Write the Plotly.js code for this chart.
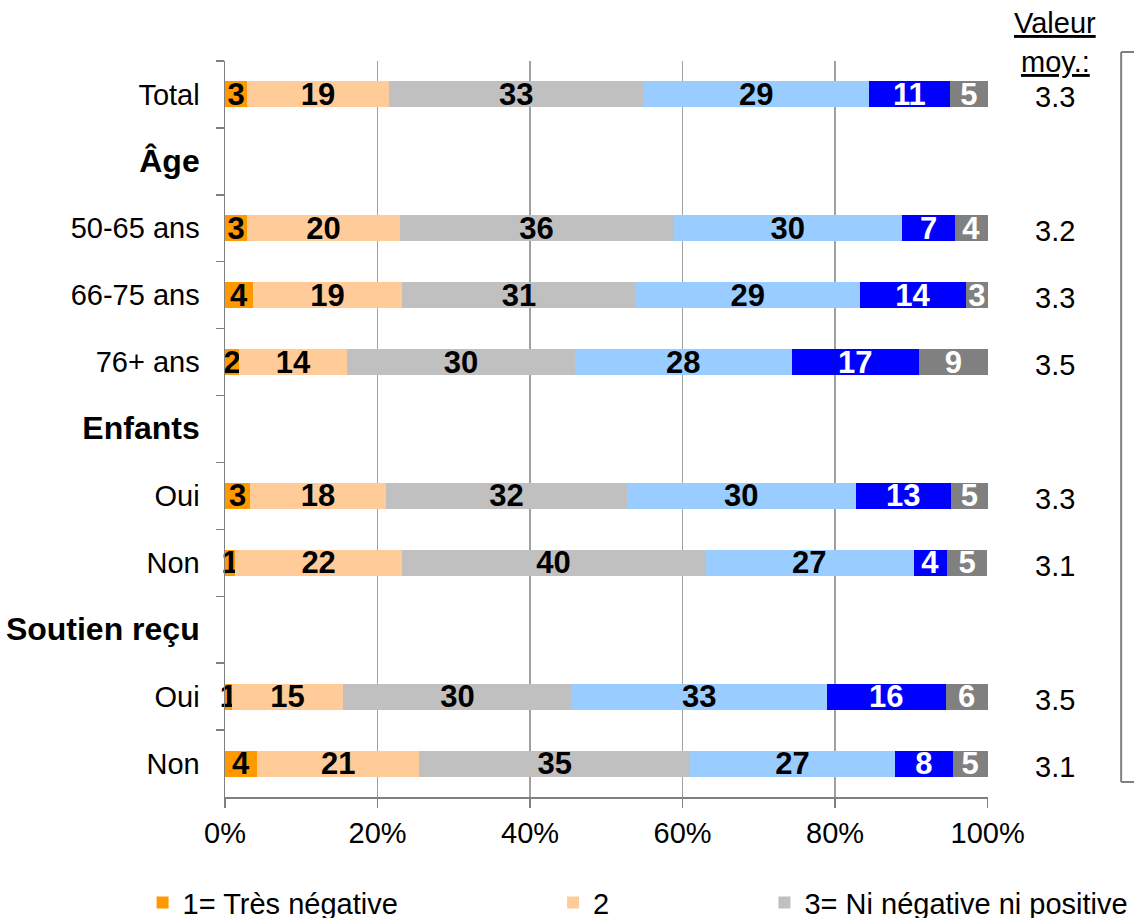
<!DOCTYPE html>
<html>
<head>
<meta charset="utf-8">
<script src="https://cdn.plot.ly/plotly-3.0.1.min.js"></script>
<style>html,body{margin:0;padding:0;background:#fff;}</style>
</head>
<body>
<div id="chart" style="width:1134px;height:918px;"></div>
<script>
// Row categories, top to bottom (zero-width space keeps the second Oui/Non distinct)
const categories = ["Total", "<b><span style='font-size:32px'>Âge</span></b>", "50-65 ans", "66-75 ans", "76+ ans",
  "<b><span style='font-size:32px'>Enfants</span></b>", "Oui", "Non",
  "<b><span style='font-size:32px'>Soutien reçu</span></b>", "Oui\u200b", "Non\u200b"];

const seriesNames = ["1= Très négative", "2", "3= Ni négative ni positive", "4", "5= Très positive", "Ne sait pas"];

// Segment widths (%)
const s1 = [2.9, null, 2.9, 3.7, 1.9, null, 3.3, 1.35, null, 0.9, 4.2];
const s2 = [18.6, null, 20.0, 19.5, 14.1, null, 17.8, 21.85, null, 14.6, 21.3];
const s3 = [33.4, null, 35.9, 30.7, 29.9, null, 31.6, 39.75, null, 30.0, 35.5];
const s4 = [29.5, null, 30.0, 29.3, 28.4, null, 30.0, 27.35, null, 33.4, 26.85];
const s5 = [10.7, null, 6.9, 14.0, 16.7, null, 12.5, 4.36, null, 15.6, 7.55];
const s6 = [4.9, null, 4.3, 2.8, 9.0, null, 4.8, 5.3, null, 5.5, 4.6];

// Printed labels
const l1 = ["3", "", "3", "4", "2", "", "3", "1", "", "1", "4"];
const l2 = ["19", "", "20", "19", "14", "", "18", "22", "", "15", "21"];
const l3 = ["33", "", "36", "31", "30", "", "32", "40", "", "30", "35"];
const l4 = ["29", "", "30", "29", "28", "", "30", "27", "", "33", "27"];
const l5 = ["11", "", "7", "14", "17", "", "13", "4", "", "16", "8"];
const l6 = ["5", "", "4", "3", "9", "", "5", "5", "", "6", "5"];

// Mean values column
const means = ["3.3", "", "3.2", "3.3", "3.5", "", "3.3", "3.1", "", "3.5", "3.1"];

const xTickVals = [0, 20, 40, 60, 80, 100];
const xTickText = ["0%", "20%", "40%", "60%", "80%", "100%"];

const colors = ["#FF9900", "#FFCC99", "#C0C0C0", "#99CCFF", "#0000FF", "#808080"];
const textColors = ["#000000", "#000000", "#000000", "#000000", "#FFFFFF", "#FFFFFF"];
const legendIds = ["legend", "legend2", "legend3", null, null, null];

const FONT = "'Liberation Sans', Arial, Helvetica, sans-serif";
const values = [s1, s2, s3, s4, s5, s6];
const labels = [l1, l2, l3, l4, l5, l6];

const traces = values.map((v, i) => ({
  type: "bar",
  orientation: "h",
  name: seriesNames[i],
  x: v,
  y: categories,
  text: labels[i],
  textposition: "inside",
  insidetextanchor: "middle",
  constraintext: "none",
  textangle: 0,
  cliponaxis: false,
  insidetextfont: {family: FONT, size: 31, color: textColors[i]},
  textfont: {family: FONT, size: 31, color: textColors[i]},
  texttemplate: "<b>%{text}</b>",
  marker: {color: colors[i], line: {width: 0}},
  showlegend: legendIds[i] !== null,
  legend: legendIds[i] || "legend",
  hoverinfo: "x+y+name"
}));

const annotations = [];
categories.forEach((c, i) => {
  if (means[i]) {
    annotations.push({
      xref: "paper", yref: "y", x: 1.088, y: c,
      xanchor: "center", yanchor: "middle", yshift: -3,
      text: means[i], showarrow: false,
      font: {family: FONT, size: 29, color: "#000"}
    });
  }
});
annotations.push({
  xref: "paper", yref: "paper", x: 1.088, y: 1.051,
  xanchor: "center", yanchor: "middle",
  text: "<span style='text-decoration:underline'>Valeur</span>",
  showarrow: false,
  font: {family: FONT, size: 29, color: "#000"}
});
annotations.push({
  xref: "paper", yref: "paper", x: 1.088, y: 0.998,
  xanchor: "center", yanchor: "middle",
  text: "<span style='text-decoration:underline'>moy.:</span>",
  showarrow: false,
  font: {family: FONT, size: 29, color: "#000"}
});

const legendBase = {
  orientation: "h", xref: "paper", yref: "paper", yanchor: "top", xanchor: "left",
  font: {family: FONT, size: 29, color: "#000"}, bgcolor: "rgba(0,0,0,0)", borderwidth: 0
};

const layout = {
  width: 1134, height: 918,
  margin: {l: 225, r: 146, t: 61, b: 121, pad: 0, autoexpand: false},
  paper_bgcolor: "#fff", plot_bgcolor: "#fff",
  barmode: "stack",
  bargap: 0.612,
  font: {family: FONT, size: 29, color: "#000"},
  xaxis: {
    range: [0, 100.05], tickmode: "array", tickvals: xTickVals, ticktext: xTickText,
    ticks: "outside", ticklen: 9, tickwidth: 1.5, tickcolor: "#808080",
    showline: true, linecolor: "#808080", linewidth: 2,
    showgrid: true, gridcolor: "#A0A0A0", gridwidth: 1.3, zeroline: false,
    tickfont: {family: FONT, size: 29, color: "#000"}, fixedrange: true
  },
  yaxis: {
    type: "category", autorange: "reversed",
    ticks: "outside", tickson: "boundaries", ticklen: 8, tickwidth: 1.5, tickcolor: "#808080",
    ticklabelstandoff: 18,
    showline: true, linecolor: "#808080", linewidth: 1.5,
    showgrid: false, zeroline: false,
    tickfont: {family: FONT, size: 29, color: "#000"}, fixedrange: true
  },
  legend: Object.assign({}, legendBase, {x: -0.108, y: -0.109}),
  legend2: Object.assign({}, legendBase, {x: 0.43, y: -0.109}),
  legend3: Object.assign({}, legendBase, {x: 0.707, y: -0.109}),
  annotations: annotations,
  shapes: [
    {type: "line", xref: "paper", yref: "paper", x0: 1.1745, x1: 1.1745, y0: 1.0122, y1: 0.0204,
      line: {color: "#808080", width: 2}},
    {type: "line", xref: "paper", yref: "paper", x0: 1.1745, x1: 1.21, y0: 1.0122, y1: 1.0122,
      line: {color: "#808080", width: 2}},
    {type: "line", xref: "paper", yref: "paper", x0: 1.1745, x1: 1.21, y0: 0.0204, y1: 0.0204,
      line: {color: "#808080", width: 2}}
  ]
};

Plotly.newPlot("chart", traces, layout, {displayModeBar: false, staticPlot: true});
</script>
</body>
</html>
